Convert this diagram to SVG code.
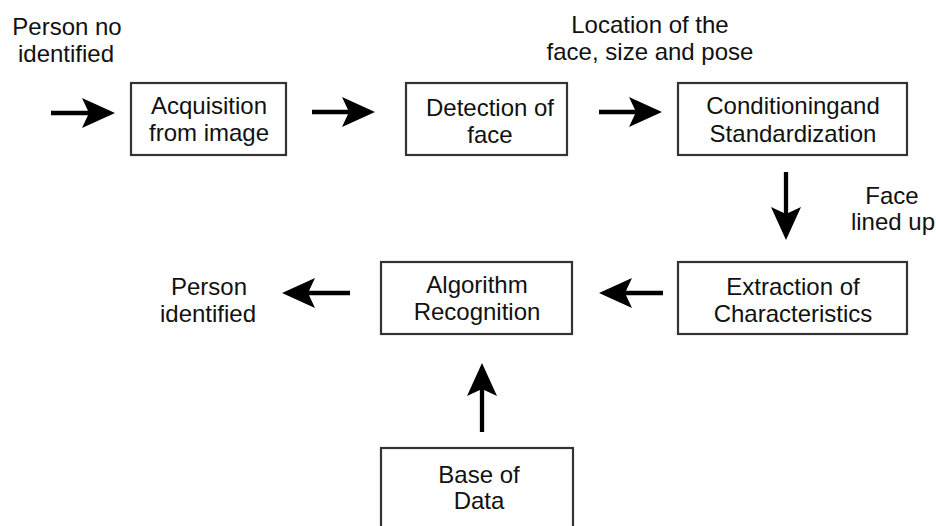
<svg xmlns="http://www.w3.org/2000/svg" width="936" height="526" viewBox="0 0 936 526">
<style>
.box{fill:#fff;stroke:#333;stroke-width:2.2}
.t{font-family:"Liberation Sans",Arial,sans-serif;font-size:24px;fill:#111;text-anchor:middle}
.ln{stroke:#000;stroke-width:4.3;fill:none}
</style>
<defs>
<marker id="ah" markerUnits="userSpaceOnUse" markerWidth="34" markerHeight="32" viewBox="0 -16 34 32" refX="8" refY="0" orient="auto">
<path d="M0,-15 L33,0 L0,15 L7,0 Z" fill="#000"/>
</marker>
</defs>
<rect width="936" height="526" fill="#fff"/>
<g id="connectors">
<line class="ln" x1="51" y1="113" x2="90" y2="113" marker-end="url(#ah)"/>
<line class="ln" x1="312" y1="112" x2="350" y2="112" marker-end="url(#ah)"/>
<line class="ln" x1="599" y1="112" x2="637" y2="112" marker-end="url(#ah)"/>
<line class="ln" x1="786" y1="172" x2="786" y2="215" marker-end="url(#ah)"/>
<line class="ln" x1="663" y1="293" x2="624" y2="293" marker-end="url(#ah)"/>
<line class="ln" x1="350" y1="293" x2="307" y2="293" marker-end="url(#ah)"/>
<line class="ln" x1="482" y1="432" x2="482" y2="388" marker-end="url(#ah)"/>
</g>
<g id="label-person-no">
<text class="t" x="67" y="35">Person no</text>
<text class="t" x="66" y="62">identified</text>
</g>
<g id="label-location">
<text class="t" x="650" y="33">Location of the</text>
<text class="t" x="650" y="60">face, size and pose</text>
</g>
<g id="label-face">
<text class="t" x="892" y="204">Face</text>
<text class="t" x="893" y="230">lined up</text>
</g>
<g id="label-person-identified">
<text class="t" x="209" y="295">Person</text>
<text class="t" x="208" y="322">identified</text>
</g>
<g id="acquisition">
<rect class="box" x="131" y="83" width="155" height="72"/>
<text class="t" x="209" y="114">Acquisition</text>
<text class="t" x="209" y="141">from image</text>
</g>
<g id="detection">
<rect class="box" x="406" y="83" width="161" height="72"/>
<text class="t" x="490" y="116">Detection of</text>
<text class="t" x="490" y="143">face</text>
</g>
<g id="conditioning">
<rect class="box" x="678" y="83" width="229" height="72"/>
<text class="t" x="793" y="114">Conditioningand</text>
<text class="t" x="793" y="142">Standardization</text>
</g>
<g id="extraction">
<rect class="box" x="678" y="262" width="229" height="72"/>
<text class="t" x="793" y="295">Extraction of</text>
<text class="t" x="793" y="322">Characteristics</text>
</g>
<g id="algorithm">
<rect class="box" x="381" y="262" width="191" height="72"/>
<text class="t" x="477" y="293">Algorithm</text>
<text class="t" x="477" y="320">Recognition</text>
</g>
<g id="database">
<rect class="box" x="381" y="448" width="192" height="90"/>
<text class="t" x="479" y="483">Base of</text>
<text class="t" x="479" y="509">Data</text>
</g>
</svg>
